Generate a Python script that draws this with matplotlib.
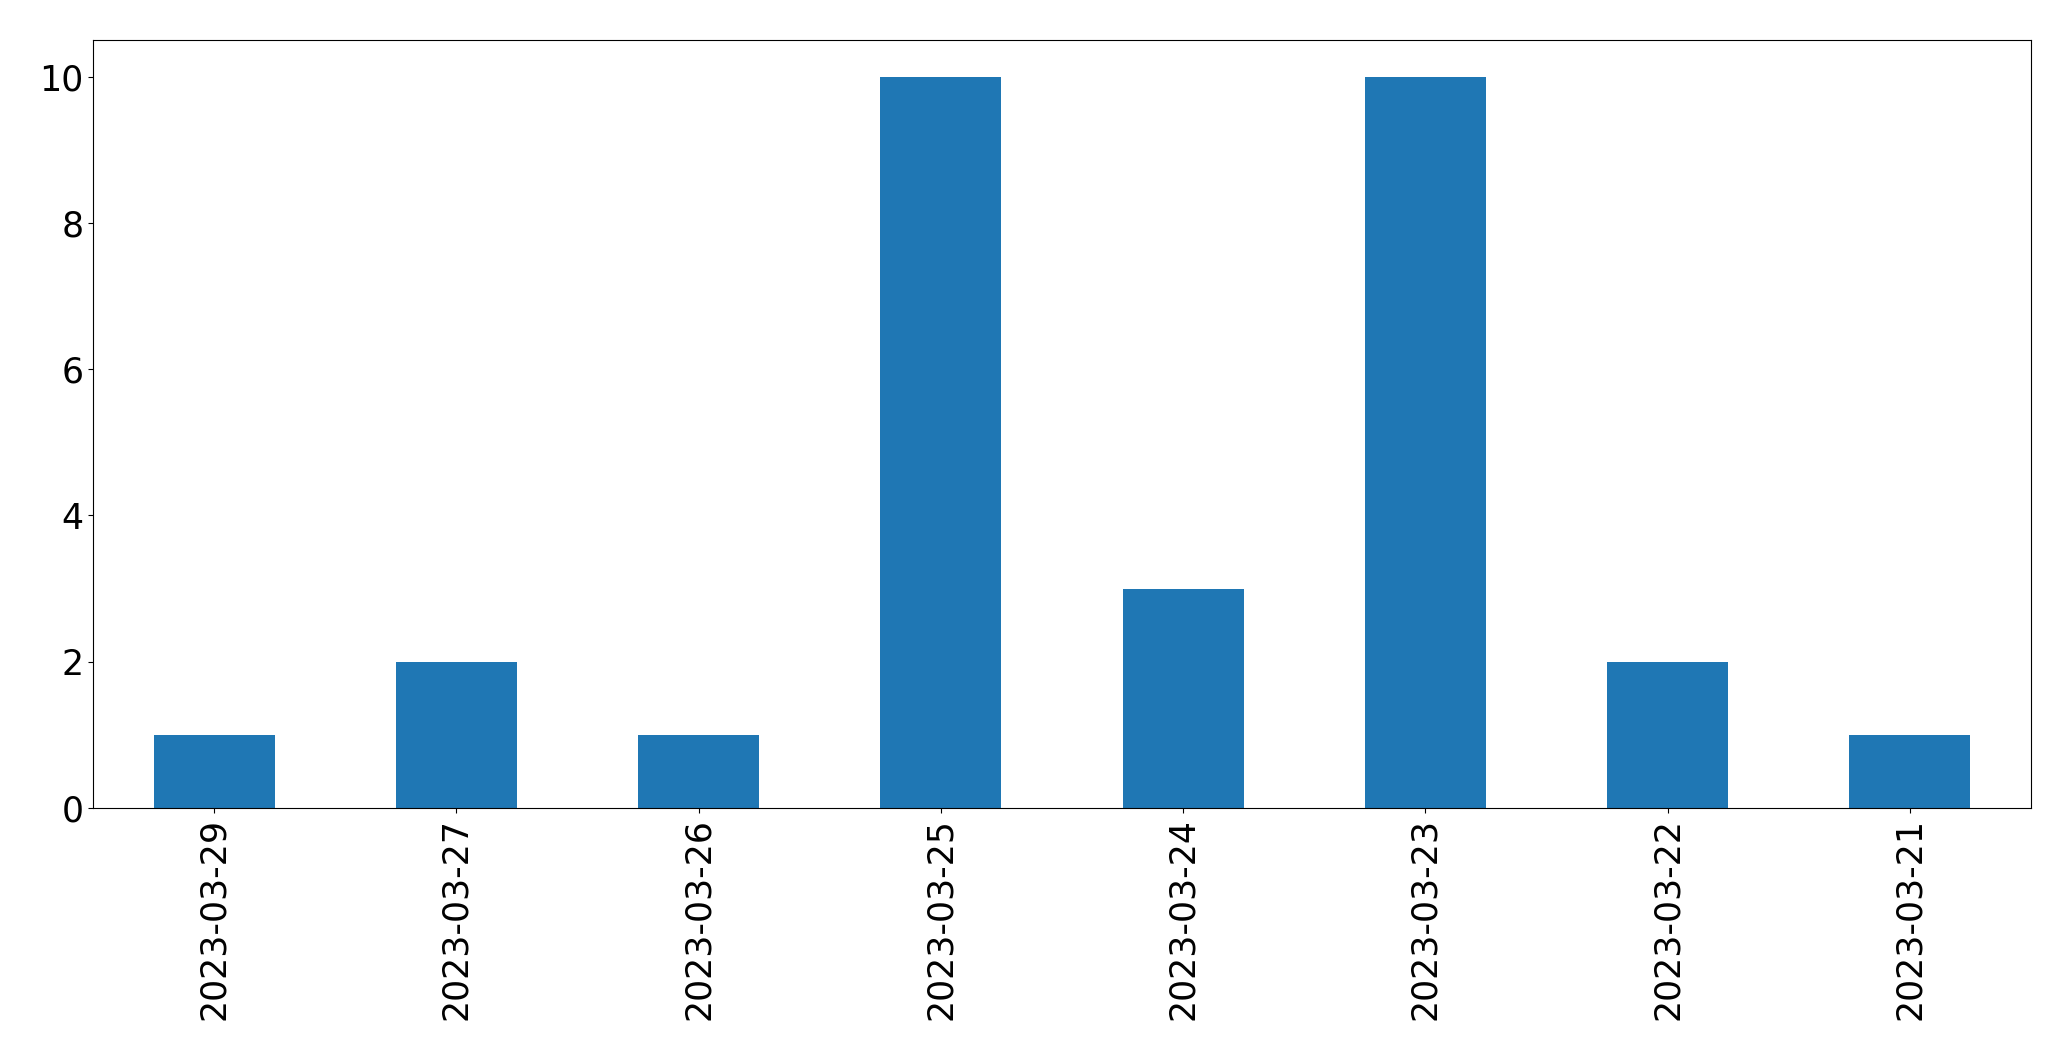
import matplotlib
matplotlib.use("Agg")
import matplotlib.pyplot as plt

dates = ["2023-03-29", "2023-03-27", "2023-03-26", "2023-03-25",
         "2023-03-24", "2023-03-23", "2023-03-22", "2023-03-21"]
counts = [1, 2, 1, 10, 3, 10, 2, 1]

fig = plt.figure(figsize=(20.71, 10.61), dpi=100)
ax = fig.add_axes([93/2071, 1 - 808/1061, (2031-93)/2071, (808-40)/1061])
x = list(range(len(dates)))
ax.bar(x, counts, width=0.5, color="#1f77b4")
ax.set_xlim(-0.5, len(dates) - 0.5)
ax.set_ylim(0, 10.5)
ax.set_xticks(x)
ax.set_xticklabels(dates, rotation=90)
ax.tick_params(labelsize=25)
fig.savefig("out.png", dpi=100)
